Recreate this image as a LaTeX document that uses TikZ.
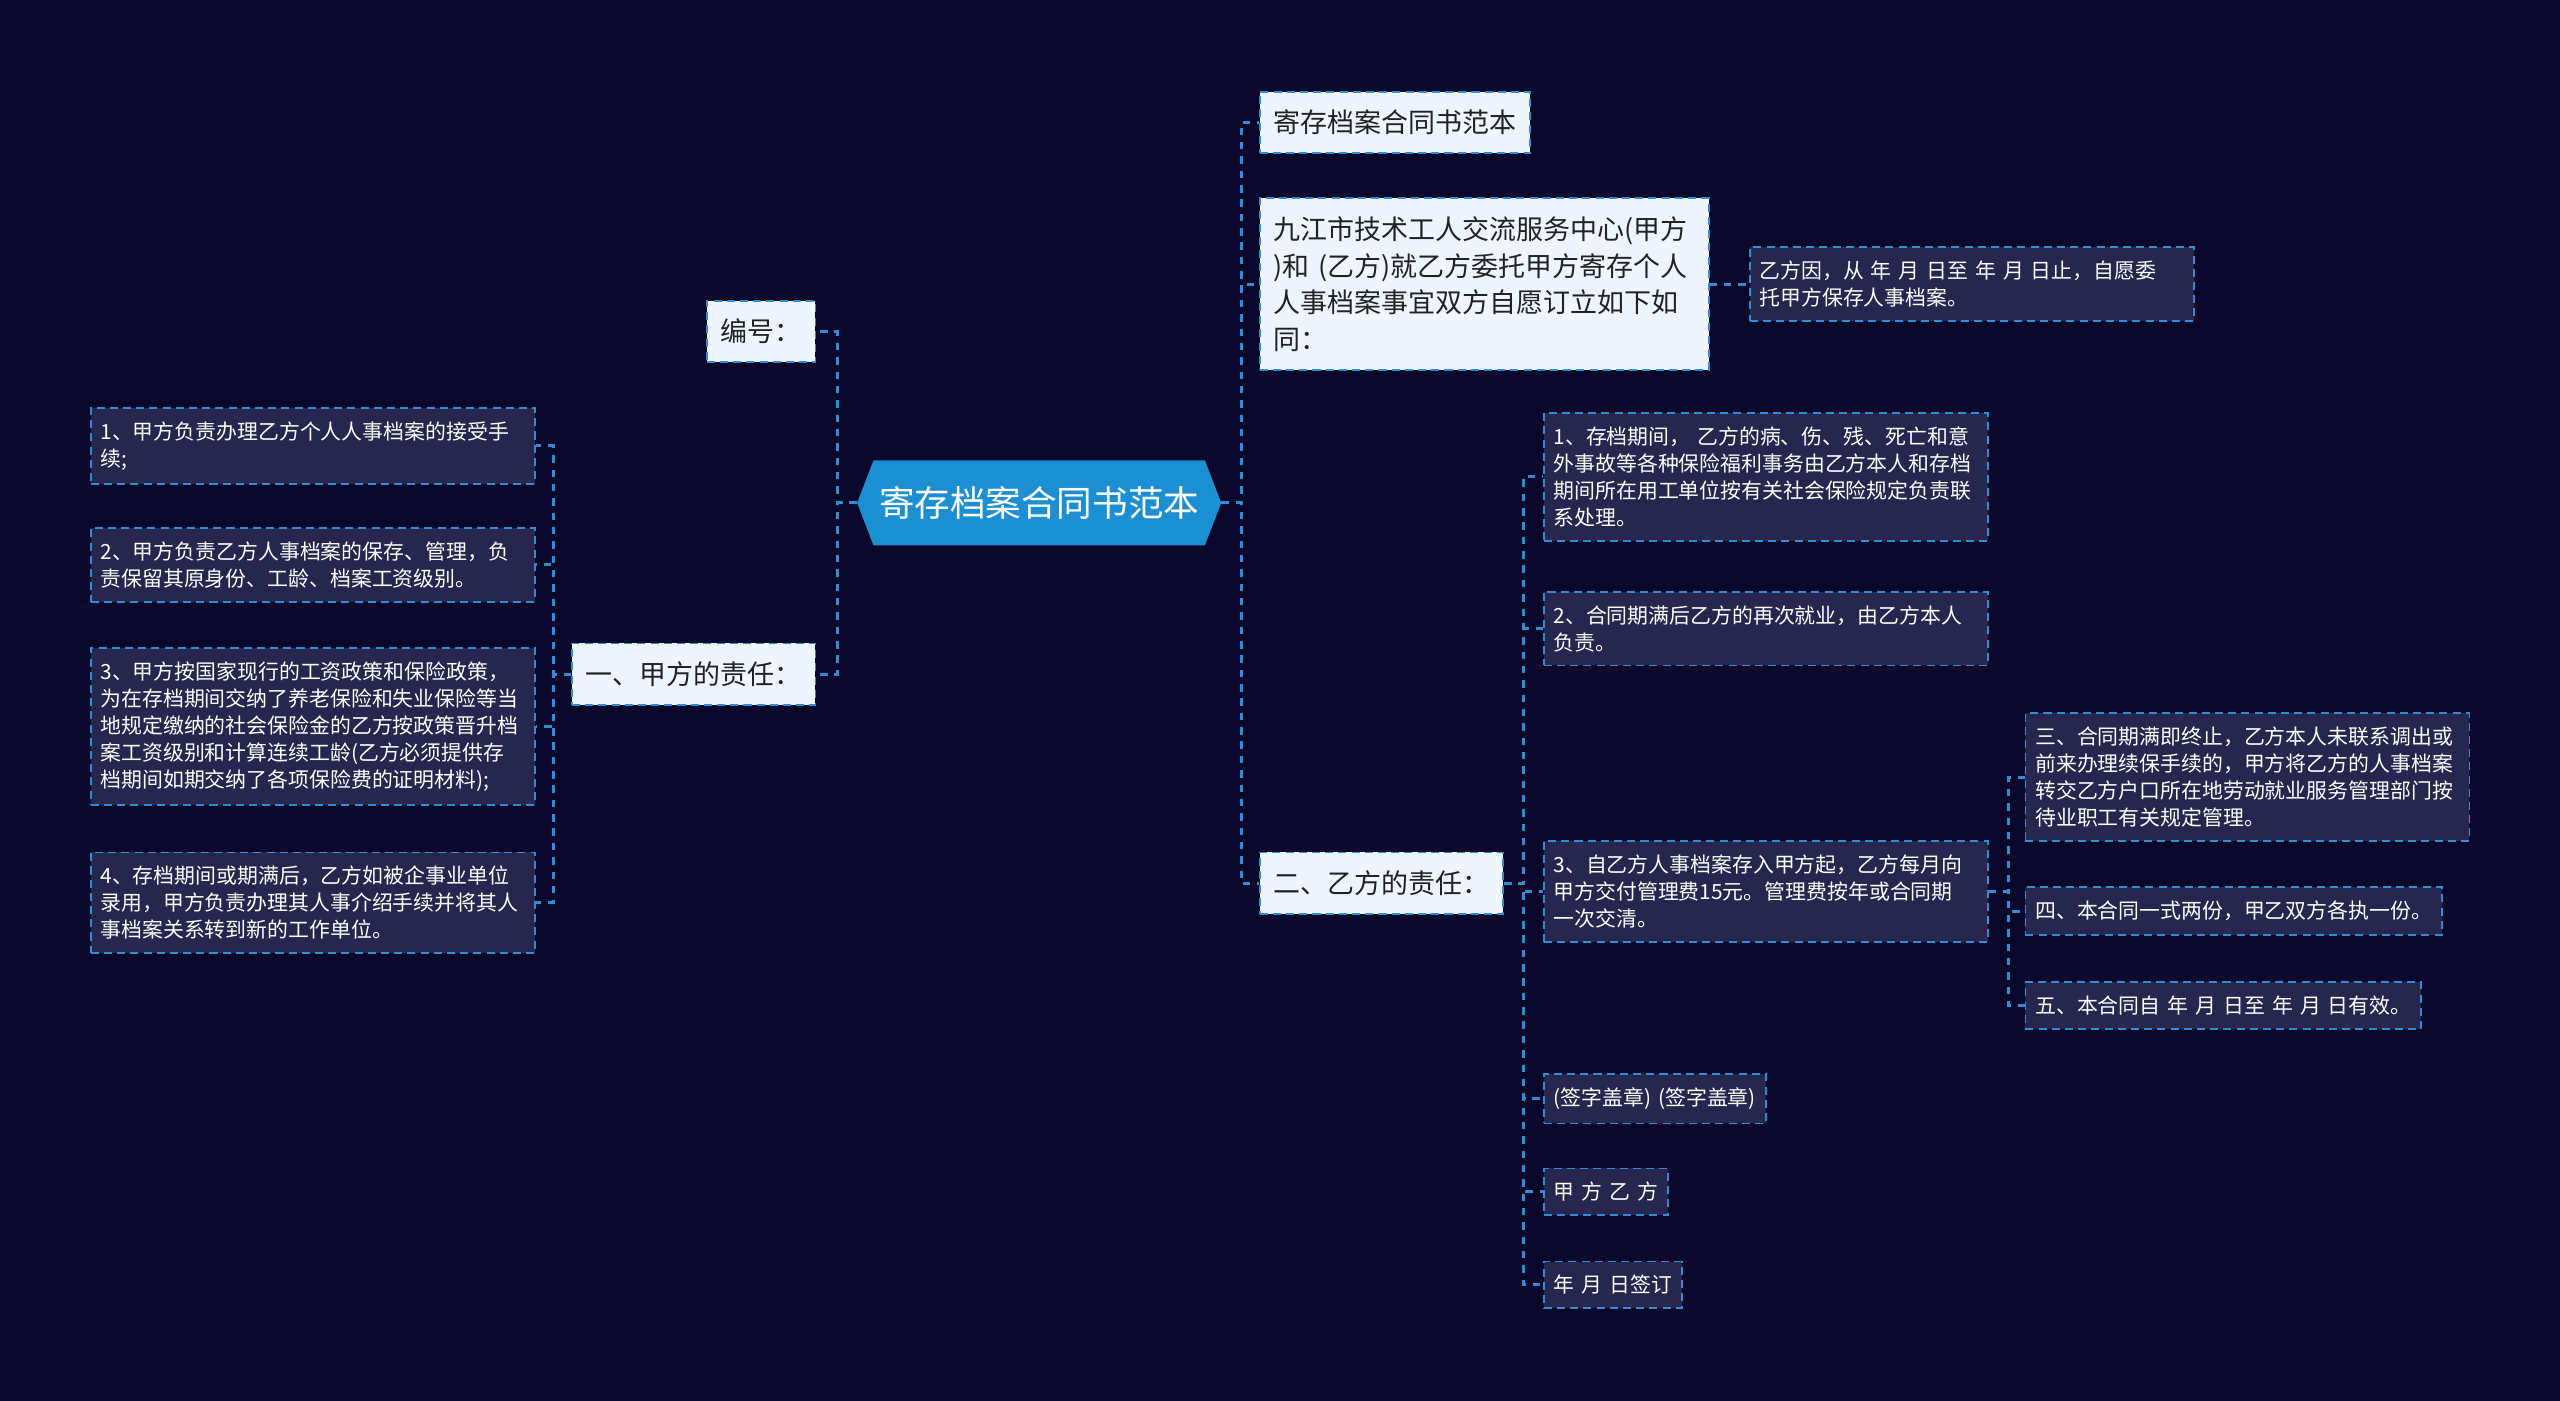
\documentclass[tikz,border=0pt]{standalone}
\usepackage{fontspec}
\setmainfont[WordSpace=1.5]{Noto Sans CJK SC}
\definecolor{MapNavy}{HTML}{0A082A}
\definecolor{MapBlue}{HTML}{1C8FD2}
\definecolor{MapLine}{HTML}{2F8CD6}
\definecolor{MapPaper}{HTML}{EEF5FC}
\definecolor{MapInk}{HTML}{222222}
\definecolor{MapTile}{HTML}{26264F}
\usepackage{tikz}
\usetikzlibrary{positioning,shapes.symbols}

\tikzset{
  rootbox/.style={signal,signal to=west and east,signal pointer angle=138,
    fill=MapBlue,text=white,inner sep=0pt,minimum width=11.15cm,minimum height=2.6cm,
    font=\fontsize{31}{36}\selectfont},
  topicbox/.style={draw=MapLine,line width=1.6pt,dash pattern=on 7pt off 4.5pt,
    fill=MapPaper,text=MapInk,align=left,inner xsep=0.425cm,inner ysep=0.56cm,
    font=\fontsize{23.5}{32}\selectfont},
  leafbox/.style={draw=MapLine,line width=1.6pt,dash pattern=on 7pt off 4.5pt,
    fill=MapTile,text=white,align=left,inner xsep=0.3cm,inner ysep=0.42cm,
    font=\fontsize{18.2}{23.5}\selectfont},
  wide/.style={text width=13cm},
  link/.style={draw=MapLine,line width=2.6pt,dash pattern=on 6.5pt off 6pt}
}

\begin{document}
\begin{tikzpicture}[x=0.05cm,y=0.05cm]
  \fill[MapNavy] (0,0) rectangle (1568,-858);

  \node[rootbox] (root) at (636.5,-308) {寄存档案合同书范本};

  % left side
  \node[topicbox,anchor=east] (bianhao) at (500,-203) {编号：};
  \node[topicbox,anchor=east] (jiafang) at (500,-413) {一、甲方的责任：};

  \node[leafbox,wide,anchor=west] (ja1) at (55,-273)
    {1、甲方负责办理乙方个人人事档案的接受手\\续;};
  \node[leafbox,wide,anchor=west] (ja2) at (55,-346)
    {2、甲方负责乙方人事档案的保存、管理，负\\责保留其原身份、工龄、档案工资级别。};
  \node[leafbox,wide,anchor=west] (ja3) at (55,-445)
    {3、甲方按国家现行的工资政策和保险政策，\\为在存档期间交纳了养老保险和失业保险等当\\地规定缴纳的社会保险金的乙方按政策晋升档\\案工资级别和计算连续工龄(乙方必须提供存\\档期间如期交纳了各项保险费的证明材料);};
  \node[leafbox,wide,anchor=west] (ja4) at (55,-553)
    {4、存档期间或期满后，乙方如被企事业单位\\录用，甲方负责办理其人事介绍手续并将其人\\事档案关系转到新的工作单位。};

  % right side
  \node[topicbox,anchor=west] (title) at (771,-75) {寄存档案合同书范本};
  \node[topicbox,anchor=west,text width=12.9cm] (intro) at (771,-174)
    {九江市技术工人交流服务中心(甲方\\)和 (乙方)就乙方委托甲方寄存个人\\人事档案事宜双方自愿订立如下如\\同：};
  \node[leafbox,wide,right=1.2cm of intro] (yinote)
    {乙方因，从 年 月 日至 年 月 日止，自愿委\\托甲方保存人事档案。};
  \node[topicbox,anchor=west] (yifang) at (771,-541) {二、乙方的责任：};

  \node[leafbox,wide,anchor=west] (yb1) at (945,-292)
    {1、存档期间， 乙方的病、伤、残、死亡和意\\外事故等各种保险福利事务由乙方本人和存档\\期间所在用工单位按有关社会保险规定负责联\\系处理。};
  \node[leafbox,wide,anchor=west] (yb2) at (945,-385)
    {2、合同期满后乙方的再次就业，由乙方本人\\负责。};
  \node[leafbox,wide,anchor=west] (yb3) at (945,-546)
    {3、自乙方人事档案存入甲方起，乙方每月向\\甲方交付管理费15元。管理费按年或合同期\\一次交清。};
  \node[leafbox,anchor=west] (yb4) at (945,-673) {(签字盖章) (签字盖章)};
  \node[leafbox,anchor=west] (yb5) at (945,-730) {甲 方 乙 方};
  \node[leafbox,anchor=west] (yb6) at (945,-787) {年 月 日签订};

  \node[leafbox,wide,anchor=west] (fee1) at (1240,-476)
    {三、合同期满即终止，乙方本人未联系调出或\\前来办理续保手续的，甲方将乙方的人事档案\\转交乙方户口所在地劳动就业服务管理部门按\\待业职工有关规定管理。};
  \node[leafbox,anchor=west] (fee2) at (1240,-558) {四、本合同一式两份，甲乙双方各执一份。};
  \node[leafbox,anchor=west] (fee3) at (1240,-616) {五、本合同自 年 月 日至 年 月 日有效。};

  % connectors
  \foreach \c in {bianhao,jiafang}
    \draw[link] (root.west) -- ++(-12,0) |- (\c.east);
  \foreach \c in {title,intro,yifang}
    \draw[link] (root.east) -- ++(12,0) |- (\c.west);
  \foreach \c in {ja1,ja2,ja3,ja4}
    \draw[link] (jiafang.west) -- ++(-11,0) |- (\c.east);
  \draw[link] (intro.east) -- (yinote.west);
  \foreach \c in {yb1,yb2,yb3,yb4,yb5,yb6}
    \draw[link] (yifang.east) -- ++(12,0) |- (\c.west);
  \foreach \c in {fee1,fee2,fee3}
    \draw[link] (yb3.east) -- ++(12,0) |- (\c.west);
\end{tikzpicture}
\end{document}
